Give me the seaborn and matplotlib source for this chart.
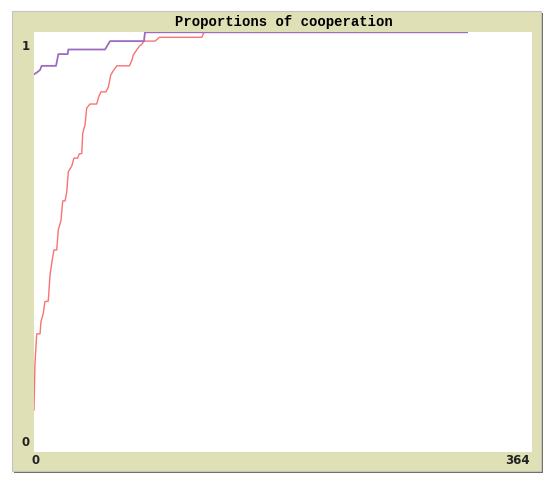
#Making imports
import matplotlib
matplotlib.use("Agg")
import pandas as pd
import matplotlib.pyplot as plt
import seaborn as sns
from matplotlib.patches import Rectangle

#Data (tick, proportion)
purple_ticks = [0, 2.0, 4.4, 5.6, 16.1, 17.8, 24.6, 25.1, 51.9, 55.6, 80.4, 81.1, 316.5]
purple_props = [0.900, 0.904, 0.910, 0.920, 0.920, 0.948, 0.948, 0.959, 0.959, 0.979, 0.979, 1.0, 1.0]

red_ticks = [0, 0.7, 2.0, 4.4, 5.1, 6.8, 8.0, 10.4, 11.7, 13.4, 14.6, 16.6, 17.8, 19.7,
             21.0, 22.7, 23.9, 25.1, 27.6, 29.2, 31.9, 33.1, 34.9, 35.6, 37.3, 38.5,
             40.9, 45.8, 47.5, 49.0, 52.6, 54.3, 56.1, 57.5, 60.5, 69.7, 71.4, 72.6,
             75.1, 77.0, 78.7, 80.4, 88.5, 91.6, 122.6, 124.3, 316.5]
red_props = [0.099, 0.209, 0.281, 0.281, 0.310, 0.330, 0.358, 0.359, 0.421, 0.459, 0.481,
             0.481, 0.530, 0.551, 0.598, 0.598, 0.618, 0.668, 0.681, 0.700, 0.700, 0.710,
             0.711, 0.759, 0.779, 0.819, 0.829, 0.829, 0.848, 0.858, 0.858, 0.869, 0.898,
             0.906, 0.920, 0.920, 0.932, 0.946, 0.958, 0.967, 0.971, 0.979, 0.979, 0.988,
             0.988, 1.0, 1.0]

x_max = 364
y_max = 1

df_red = pd.DataFrame({'tick': red_ticks, 'prop': red_props})
df_purple = pd.DataFrame({'tick': purple_ticks, 'prop': purple_props})

#Figure sized to 550x482 px
W, H = 550, 482
fig = plt.figure(figsize=(5.5, 4.82), dpi=100)
fig.patch.set_facecolor('white')

def fx(px):
    return px / W

def fy(py):
    return 1 - py / H

#Beige plot widget with shadow
fig.patches.append(Rectangle((fx(14), fy(473)), fx(529), 460 / H, transform=fig.transFigure,
                             facecolor='#6e6e5e', edgecolor='none', zorder=0))
fig.patches.append(Rectangle((fx(12), fy(471)), fx(529), 460 / H, transform=fig.transFigure,
                             facecolor='#e0e0b6', edgecolor='#c4c4c4', linewidth=0.8, zorder=1))

#Plot area
ax = fig.add_axes([fx(34), fy(451.7), fx(532 - 34), (451.7 - 32.3) / H])
ax.set_facecolor('white')
ax.set_zorder(2)

sns.lineplot(data=df_red, x='tick', y='prop', ax=ax, color='#fa7272', linewidth=1.0,
             sort=False, estimator=None)
sns.lineplot(data=df_purple, x='tick', y='prop', ax=ax, color='#9d6cbf', linewidth=1.3,
             sort=False, estimator=None)

ax.set_xlim(0, x_max)
ax.set_ylim(0, y_max)
ax.set_xticks([])
ax.set_yticks([])
ax.set_xlabel('')
ax.set_ylabel('')
for s in ax.spines.values():
    s.set_visible(False)

#Title and corner labels
fig.text(fx(284), fy(22), 'Proportions of cooperation', ha='center', va='center',
         fontsize=10, fontweight='bold', family='Liberation Mono')
lab = dict(fontsize=8.5, fontweight='bold', family='DejaVu Sans', color='#222222')
fig.text(fx(26), fy(46), '1', ha='center', va='center', **lab)
fig.text(fx(26), fy(443), '0', ha='center', va='center', **lab)
fig.text(fx(36), fy(461), '0', ha='center', va='center', **lab)
fig.text(fx(530), fy(461), '364', ha='right', va='center', **lab)

fig.savefig('out.png', dpi=100)
